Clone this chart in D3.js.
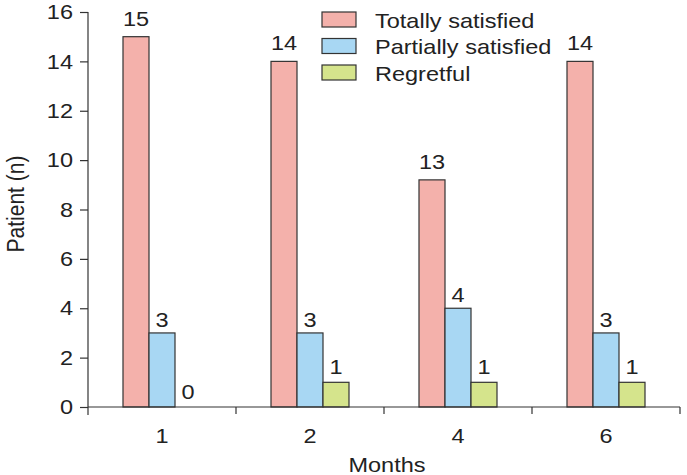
<!DOCTYPE html>
<html>
<head>
    <meta charset="utf-8">
    <script src="https://cdn.jsdelivr.net/npm/d3@7"></script>
    <style>
        body { margin: 0; background: #fff; }
        text { font-family: "Liberation Sans", Arial, sans-serif; fill: #222; }
    </style>
</head>
<body>
    <svg width="687" height="475" id="mainsvg"></svg>
    <script>
        // data
        const months = ['1', '2', '4', '6'];
        const seriesNames = ['Totally satisfied', 'Partially satisfied', 'Regretful'];
        const totally = [15, 14, 9.2, 14];      // month 4 bar is drawn at ~9.2 although labelled 13
        const partially = [3, 3, 4, 3];
        const regretful = [0, 1, 1, 1];
        const totallyLabels = ['15', '14', '13', '14'];
        const partiallyLabels = ['3', '3', '4', '3'];
        const regretfulLabels = ['0', '1', '1', '1'];
        const yTicks = [0, 2, 4, 6, 8, 10, 12, 14, 16];
        const colors = ['#f4b1ab', '#a8d7f3', '#d5e48c'];
        const labelGap = [11, 6, 8];

        const svg = d3.select('svg');
        const margin = { top: 12, right: 7, bottom: 68, left: 88 };
        const width = +svg.attr('width');
        const height = +svg.attr('height');
        const innerWidth = width - margin.left - margin.right;
        const innerHeight = height - margin.top - margin.bottom;
        const fontSize = 21;
        const sx = 1.12;   // the source text is a bit wide

        // move x/y into a transform so the glyphs can be widened
        const widen = sel => sel.each(function () {
            const t = d3.select(this);
            const x = +t.attr('x') || 0;
            const y = +t.attr('y') || 0;
            t.attr('x', 0).attr('y', 0)
                .attr('transform', `translate(${x},${y}) scale(${sx},1)`);
        });

        const g = svg.append('g')
            .attr('transform', `translate(${margin.left}, ${margin.top})`);

        const xScale = d3.scaleBand().domain(months).range([0, innerWidth]);
        const groupW = 78;
        const x1 = d3.scaleBand().domain(seriesNames)
            .range([(xScale.bandwidth() - groupW) / 2, (xScale.bandwidth() + groupW) / 2]);
        const yScale = d3.scaleLinear().domain([0, 16]).range([innerHeight, 0]);

        const rows = [];
        const vals = [totally, partially, regretful];
        const labs = [totallyLabels, partiallyLabels, regretfulLabels];
        months.forEach((m, i) => {
            seriesNames.forEach((s, j) => {
                rows.push({ month: m, series: s, value: vals[j][i], label: labs[j][i], c: colors[j], gap: labelGap[j] });
            });
        });

        // bars
        g.selectAll('.bar').data(rows.filter(d => d.value > 0))
            .join('rect')
            .attr('class', 'bar')
            .attr('x', d => xScale(d.month) + x1(d.series))
            .attr('y', d => yScale(d.value))
            .attr('width', x1.bandwidth())
            .attr('height', d => yScale(0) - yScale(d.value))
            .attr('fill', d => d.c)
            .attr('stroke', '#333')
            .attr('stroke-width', 1.2);

        g.selectAll('.val').data(rows)
            .join('text')
            .attr('class', 'val')
            .attr('x', d => xScale(d.month) + x1(d.series) + x1.bandwidth() / 2)
            .attr('y', d => yScale(d.value) - d.gap)
            .attr('text-anchor', 'middle')
            .attr('font-size', fontSize)
            .text(d => d.label)
            .call(widen);

        // y axis
        const yAxis = d3.axisLeft(yScale).tickValues(yTicks).tickSize(8).tickPadding(7);
        const yAxisG = g.append('g').call(yAxis);
        yAxisG.select('.domain').remove();
        yAxisG.selectAll('.tick line').attr('stroke', '#333').attr('stroke-width', 1.2);
        yAxisG.selectAll('.tick text').attr('font-size', fontSize).attr('fill', '#222')
            .attr('font-family', '"Liberation Sans", Arial, sans-serif')
            .call(widen);
        g.append('line')
            .attr('x1', 0).attr('x2', 0)
            .attr('y1', yScale(16)).attr('y2', yScale(0) + 8)
            .attr('stroke', '#333').attr('stroke-width', 1.2);

        // x axis
        const xAxis = d3.axisBottom(xScale).tickSize(0).tickPadding(21);
        const xAxisG = g.append('g').attr('transform', `translate(0, ${innerHeight})`).call(xAxis);
        xAxisG.select('.domain').remove();
        xAxisG.selectAll('.tick text').attr('font-size', fontSize).attr('fill', '#222')
            .attr('font-family', '"Liberation Sans", Arial, sans-serif')
            .call(widen);
        g.append('line')
            .attr('x1', 0).attr('x2', innerWidth)
            .attr('y1', innerHeight).attr('y2', innerHeight)
            .attr('stroke', '#333').attr('stroke-width', 1.2);
        g.selectAll('.xtick').data(months)
            .join('line')
            .attr('class', 'xtick')
            .attr('x1', d => xScale(d) + xScale.bandwidth())
            .attr('x2', d => xScale(d) + xScale.bandwidth())
            .attr('y1', innerHeight).attr('y2', innerHeight + 7)
            .attr('stroke', '#333').attr('stroke-width', 1.2);

        // axis titles
        svg.append('text')
            .attr('transform', `translate(24, 204) rotate(-90) scale(1, ${sx})`)
            .attr('text-anchor', 'middle')
            .attr('font-size', fontSize)
            .text('Patient (n)');
        g.append('text')
            .attr('x', innerWidth / 2 + 3)
            .attr('y', innerHeight + 65)
            .attr('text-anchor', 'middle')
            .attr('font-size', fontSize)
            .text('Months')
            .call(widen);

        // legend
        const legend = svg.append('g').attr('transform', 'translate(322, 12)');
        seriesNames.forEach((s, i) => {
            const row = legend.append('g').attr('transform', `translate(0, ${i * 26.5})`);
            row.append('rect')
                .attr('width', 34).attr('height', 15)
                .attr('fill', colors[i])
                .attr('stroke', '#333').attr('stroke-width', 1.2);
            row.append('text')
                .attr('x', 53).attr('y', 15.5)
                .attr('font-size', fontSize)
                .text(s)
                .call(widen);
        });
    </script>
</body>
</html>
